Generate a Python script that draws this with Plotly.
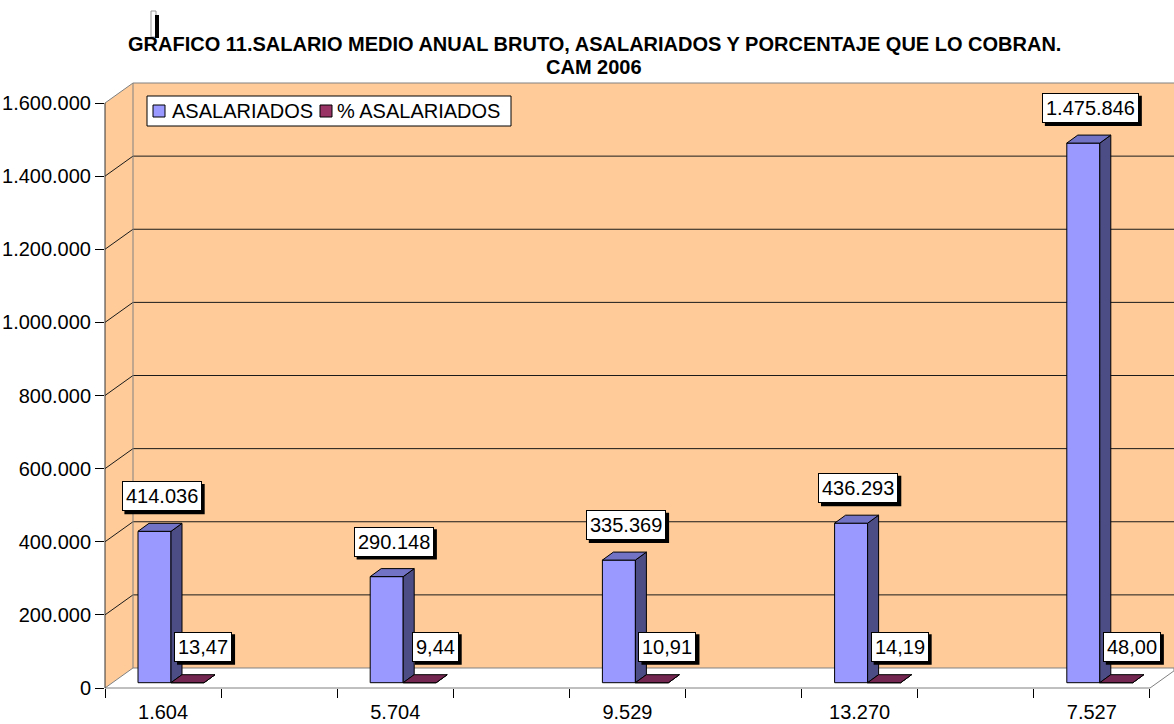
import plotly.graph_objects as go

# ---------------- data ----------------
categories = ["1.604", "5.704", "9.529", "13.270", "7.527"]
asalariados = [414036, 290148, 335369, 436293, 1475846]
pct_asalariados = [13.47, 9.44, 10.91, 14.19, 48.00]
y_tick_vals = [0, 200000, 400000, 600000, 800000, 1000000, 1200000, 1400000, 1600000]
y_tick_text = ["0", "200.000", "400.000", "600.000", "800.000", "1.000.000",
               "1.200.000", "1.400.000", "1.600.000"]
series_names = ["ASALARIADOS", "% ASALARIADOS"]
title_lines = ["GRAFICO 11.SALARIO MEDIO ANUAL BRUTO, ASALARIADOS Y PORCENTAJE QUE LO COBRAN.",
               "CAM 2006"]

# ---------------- geometry / style ----------------
W, H = 1174, 724
PL, PR, PT, PB = 105, 1174, 83, 688          # plot area in pixels
Y_TOP_TICK_PX = 103                            # pixel of 1.600.000
SCALE = (PB - Y_TOP_TICK_PX) / 1600000.0       # px per unit
CAT0, CATW = 163.05, 232.2                     # category centre / spacing (px)
WALL_DX, WALL_DY = 28, 20                      # depth of the walls (px)
BAR_DX, BAR_DY = 11, 8                         # depth of the bars (px)
BAR_LIFT = 5.3                                 # bars stand a bit behind the front edge
BAR_W = 33                                     # bar width (px)
BLUE_OFF = 138 - CAT0                          # blue bar left edge vs category centre
FONT = "Liberation Sans, Arial, sans-serif"
FS = 20
PAD = 3
SHADOW = 3

C_WALL = "#FFCC99"
C_BLUE, C_BLUE_TOP, C_BLUE_SIDE = "#9999FF", "#7373C6", "#4D4D85"
C_PURP, C_PURP_TOP, C_PURP_SIDE = "#993366", "#732650", "#4D1A33"
C_FRAME = "#808080"

# Arial / Liberation Sans advance widths (em) for label characters
CHAR_EM = {**{d: 0.556 for d in "0123456789"}, ".": 0.278, ",": 0.278}


def xu(px):   # pixel -> x data
    return (px - CAT0) / CATW


def dxu(px):  # pixel length -> x data length
    return px / CATW


def dyv(px):  # pixel length -> y data length
    return px / SCALE


def pxp(px):  # pixel -> paper x
    return (px - PL) / (PR - PL)


def pyp(py):  # pixel -> paper y
    return (PB - py) / (PB - PT)


Y_RANGE_TOP = (PB - PT) / SCALE
base = dyv(BAR_LIFT)

fig = go.Figure()

# bars (front faces) through the library axes
fig.add_trace(go.Bar(
    x=list(range(len(categories))), y=asalariados, base=base,
    offset=dxu(BLUE_OFF), width=dxu(BAR_W),
    marker=dict(color=C_BLUE, line=dict(color="black", width=1)),
    name=series_names[0], showlegend=False, hoverinfo="skip"))
fig.add_trace(go.Bar(
    x=list(range(len(categories))), y=pct_asalariados, base=base,
    offset=dxu(BLUE_OFF + BAR_W), width=dxu(BAR_W),
    marker=dict(color=C_PURP, line=dict(color="black", width=1)),
    name=series_names[1], showlegend=False, hoverinfo="skip"))

shapes = []


def pshape(pts, fill, line_color=None, lw=0, layer="below"):
    d = "M " + " L ".join(f"{pxp(a):.5f},{pyp(b):.5f}" for a, b in pts) + " Z"
    shapes.append(dict(type="path", path=d, xref="paper", yref="paper",
                       fillcolor=fill, line=dict(color=line_color or fill, width=lw),
                       layer=layer))


def pline(x0, y0, x1, y1, color, lw=1, layer="below"):
    shapes.append(dict(type="line", xref="paper", yref="paper",
                       x0=pxp(x0), y0=pyp(y0), x1=pxp(x1), y1=pyp(y1),
                       line=dict(color=color, width=lw), layer=layer))


# walls and floor
pshape([(PL, PB), (PL + WALL_DX, PB - WALL_DY), (PL + WALL_DX, PT), (PL, Y_TOP_TICK_PX)], C_WALL)
pshape([(PL + WALL_DX, PB - WALL_DY), (PR, PB - WALL_DY), (PR, PT), (PL + WALL_DX, PT)], C_WALL)
floor_right = 1150
pshape([(PL, PB), (floor_right, PB), (PR, PB - (PR - floor_right) * WALL_DY / WALL_DX),
        (PR, PB - WALL_DY), (PL + WALL_DX, PB - WALL_DY)], "white", C_FRAME, 1)

# gridlines
for v in y_tick_vals[1:]:
    py = PB - v * SCALE
    col = C_FRAME if v == y_tick_vals[-1] else "#1a1a1a"
    pline(PL + WALL_DX, py - WALL_DY, PR, py - WALL_DY, col)
    pline(PL, py, PL + WALL_DX, py - WALL_DY, col)
pline(PL + WALL_DX, PB - WALL_DY, PL + WALL_DX, PT, C_FRAME)
pline(PL, PB, PL, Y_TOP_TICK_PX, "#333333")


# 3D faces of bars (data coordinates)
def face(pts, fill):
    d = "M " + " L ".join(f"{a:.6f},{b:.3f}" for a, b in pts) + " Z"
    shapes.append(dict(type="path", path=d, xref="x", yref="y", fillcolor=fill,
                       line=dict(color="black", width=1), layer="above"))


ddx, ddy = dxu(BAR_DX), dyv(BAR_DY)
for series, off, ctop, cside in [(asalariados, BLUE_OFF, C_BLUE_TOP, C_BLUE_SIDE),
                                  (pct_asalariados, BLUE_OFF + BAR_W, C_PURP_TOP, C_PURP_SIDE)]:
    for i, v in enumerate(series):
        x0 = i + dxu(off)
        x1 = x0 + dxu(BAR_W)
        top = base + v
        face([(x1, base), (x1 + ddx, base + ddy), (x1 + ddx, top + ddy), (x1, top)], cside)
        face([(x0, top), (x0 + ddx, top + ddy), (x1 + ddx, top + ddy), (x1, top)], ctop)

# legend (manual)
LEG = (147, 96, 511, 126)
shapes.append(dict(type="rect", xref="paper", yref="paper",
                   x0=pxp(LEG[0]), x1=pxp(LEG[2]), y0=pyp(LEG[3]), y1=pyp(LEG[1]),
                   fillcolor="white", line=dict(color="black", width=1), layer="above"))
annotations = []
for sx, tx, col, name in [(153, 170, C_BLUE, series_names[0]), (320, 335, C_PURP, series_names[1])]:
    shapes.append(dict(type="rect", xref="paper", yref="paper",
                       x0=pxp(sx), x1=pxp(sx + 12), y0=pyp(117), y1=pyp(105),
                       fillcolor=col, line=dict(color="black", width=1), layer="above"))
    annotations.append(dict(text=name, xref="paper", yref="paper", x=pxp(tx), y=pyp(111),
                            xanchor="left", yanchor="middle", showarrow=False,
                            font=dict(family=FONT, size=FS, color="black")))

# title (two lines)
for txt, yc in zip(title_lines, [44, 67]):
    annotations.append(dict(text=f"<b>{txt}</b>", xref="paper", yref="paper",
                            x=pxp(594), y=pyp(yc), xanchor="center", yanchor="middle",
                            showarrow=False, font=dict(family=FONT, size=FS, color="black")))

# broken-image glyph near the title
shapes.append(dict(type="rect", xref="paper", yref="paper", x0=pxp(151), x1=pxp(156),
                   y0=pyp(37), y1=pyp(11), fillcolor="white", line=dict(color="#999999", width=1)))
shapes.append(dict(type="rect", xref="paper", yref="paper", x0=pxp(155), x1=pxp(159),
                   y0=pyp(38), y1=pyp(15), fillcolor="black", line=dict(color="black", width=0)))


# data labels with drop shadow (shadow is a pixel-sized shape behind the label box)
def label(x, y, text, yshift):
    w = sum(CHAR_EM.get(c, 0.556) for c in text) * FS + 2 * (PAD + 1)
    h = 1.117 * FS + 2 * (PAD + 1)
    shapes.append(dict(type="rect", xref="x", yref="y", xsizemode="pixel", ysizemode="pixel",
                       xanchor=x, yanchor=y,
                       x0=-w / 2 + SHADOW, x1=w / 2 + SHADOW,
                       y0=yshift - SHADOW, y1=yshift - SHADOW + h,
                       fillcolor="black", line=dict(color="black", width=0), layer="above"))
    annotations.append(dict(
        x=x, y=y, xref="x", yref="y", text=text, showarrow=False,
        xanchor="center", yanchor="bottom", yshift=yshift,
        bgcolor="white", bordercolor="black", borderwidth=1,
        borderpad=PAD, font=dict(family=FONT, size=FS, color="black")))


for i, v in enumerate(asalariados):
    label(i + dxu(-1.5), base + v, f"{v:,}".replace(",", "."), 20)
for i, v in enumerate(pct_asalariados):
    label(i + dxu(40), base + v, f"{v:.2f}".replace(".", ","), 21)

fig.update_layout(
    width=W, height=H,
    margin=dict(l=PL, r=W - PR, t=PT, b=H - PB, pad=0, autoexpand=False),
    paper_bgcolor="white", plot_bgcolor="white",
    showlegend=False, barmode="overlay",
    xaxis=dict(range=[xu(PL), xu(PR)], tickvals=list(range(len(categories))),
               ticktext=categories, ticks="", showgrid=False, zeroline=False,
               showline=False, ticklabelstandoff=10, automargin=False,
               tickfont=dict(family=FONT, size=FS, color="black"),
               minor=dict(ticks="outside", ticklen=9, tickcolor="black", tickwidth=1,
                          tick0=xu(PL), dtick=0.5, showgrid=False)),
    yaxis=dict(range=[0, Y_RANGE_TOP], tickvals=y_tick_vals, ticktext=y_tick_text,
               ticks="outside", ticklen=9, tickcolor="black", tickwidth=1,
               showgrid=False, zeroline=False, showline=False, automargin=False,
               tickfont=dict(family=FONT, size=FS, color="black")),
    shapes=shapes, annotations=annotations,
)

fig.write_html("out.html", config={"displayModeBar": False},
               post_script="document.body.style.margin='0px';document.body.style.overflow='hidden';")
